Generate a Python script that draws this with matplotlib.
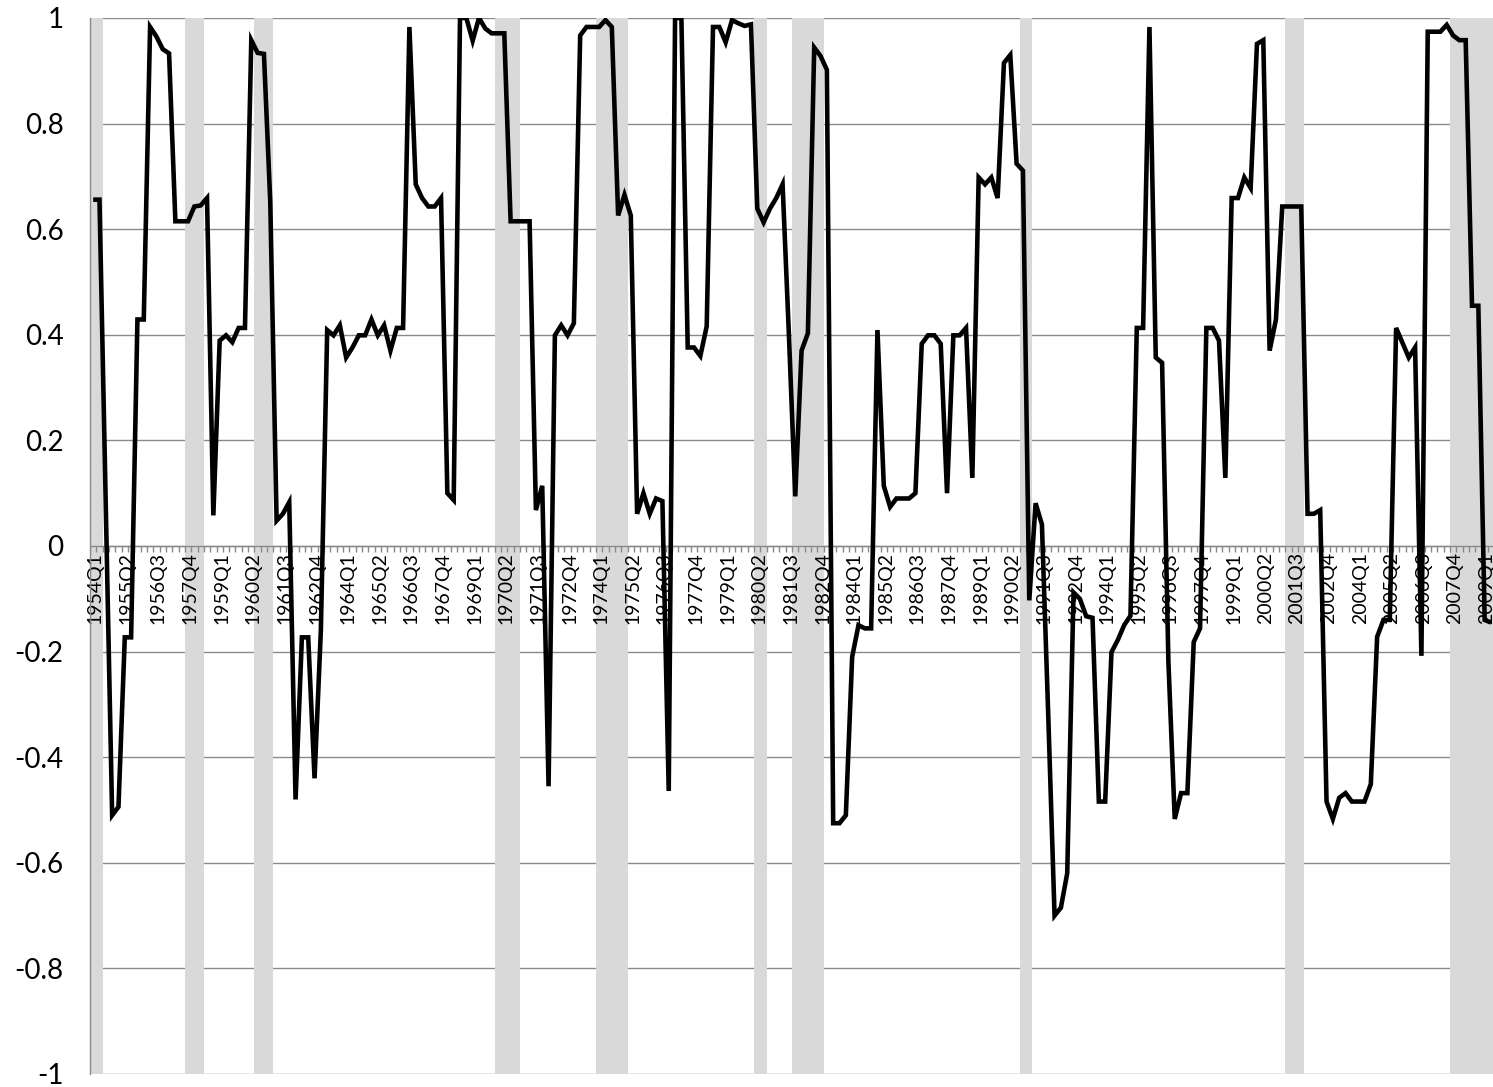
#!/usr/bin/env python3
# -*- coding: utf-8 -*-
"""
Quarterly correlation series 1954Q1-2009Q2 with recession shading.
Excel-style line chart, saved as out.png
"""
import matplotlib
matplotlib.use("Agg")
import matplotlib.pyplot as plt
import matplotlib.transforms as mtransforms
from matplotlib.collections import LineCollection

plt.rcParams['font.family'] = ['Lato', 'DejaVu Sans']

# ---- data -------------------------------------------------------------
START_YEAR = 1954
N_QUARTERS = 222          # 1954Q1 .. 2009Q2

vals_1950s = [0.656, 0.656, 0.073, -0.51, -0.494, -0.173, -0.173, 0.429,
              0.429, 0.983, 0.965, 0.941, 0.933, 0.615, 0.615, 0.615,
              0.643, 0.645, 0.659, 0.058, 0.389, 0.399, 0.386, 0.413]
vals_1960s = [0.413, 0.958, 0.934, 0.932, 0.652, 0.048, 0.061, 0.083,
              -0.48, -0.173, -0.173, -0.44, -0.16, 0.409, 0.399, 0.418,
              0.357, 0.376, 0.399, 0.399, 0.429, 0.399, 0.418, 0.370,
              0.413, 0.413, 0.983, 0.685, 0.659, 0.643, 0.643, 0.659,
              0.100, 0.087, 1.0, 1.0, 0.957, 1.0, 0.98, 0.971]
vals_1970s = [0.971, 0.971, 0.615, 0.615, 0.615, 0.615, 0.068, 0.114,
              -0.455, 0.399, 0.418, 0.399, 0.422, 0.967, 0.983, 0.983,
              0.983, 0.996, 0.983, 0.626, 0.665, 0.626, 0.061, 0.100,
              0.061, 0.090, 0.085, -0.464, 1.0, 1.0, 0.376, 0.376,
              0.36, 0.416, 0.983, 0.983, 0.954, 0.996, 0.99, 0.985]
vals_1980s = [0.988, 0.639, 0.613, 0.639, 0.659, 0.685, 0.40, 0.094,
              0.370, 0.403, 0.944, 0.928, 0.902, -0.525, -0.525, -0.510,
              -0.210, -0.150, -0.156, -0.156, 0.409, 0.114, 0.074, 0.090,
              0.090, 0.090, 0.100, 0.383, 0.399, 0.399, 0.383, 0.100,
              0.399, 0.399, 0.413, 0.129, 0.698, 0.685, 0.698, 0.659]
vals_1990s = [0.915, 0.930, 0.724, 0.711, -0.103, 0.081, 0.041, -0.32,
              -0.70, -0.685, -0.62, -0.088, -0.10, -0.133, -0.136, -0.484,
              -0.484, -0.201, -0.178, -0.150, -0.132, 0.413, 0.413, 0.983,
              0.357, 0.347, -0.22, -0.517, -0.468, -0.468, -0.182, -0.156,
              0.413, 0.413, 0.389, 0.129, 0.659, 0.659, 0.698, 0.678]
vals_2000s = [0.951, 0.958, 0.370, 0.429, 0.643, 0.643, 0.643, 0.643,
              0.061, 0.061, 0.068, -0.484, -0.517, -0.477, -0.468, -0.484,
              -0.484, -0.484, -0.451, -0.172, -0.14, -0.14, 0.413, 0.385,
              0.357, 0.376, -0.208, 0.974, 0.974, 0.974, 0.987, 0.967,
              0.958, 0.958, 0.455, 0.455, -0.14, -0.145]

# recession periods (first and last shaded quarter)
recessions = [("1954Q1", "1954Q2"), ("1957Q4", "1958Q2"),
              ("1960Q3", "1961Q1"), ("1970Q1", "1970Q4"),
              ("1974Q1", "1975Q1"), ("1980Q2", "1980Q3"),
              ("1981Q4", "1982Q4"), ("1990Q4", "1991Q1"),
              ("2001Q2", "2001Q4"), ("2007Q4", "2009Q2")]

y_ticks = [1, 0.8, 0.6, 0.4, 0.2, 0, -0.2, -0.4, -0.6, -0.8, -1]
y_tick_labels = ["1", "0.8", "0.6", "0.4", "0.2", "0", "-0.2", "-0.4",
                 "-0.6", "-0.8", "-1"]
LABEL_EVERY = 5

GRID_COL = "#8a8a8a"
SHADE_COL = "#d9d9d9"


def quarter_labels(n, start_year):
    """1954Q1, 1954Q2, ..."""
    return [f"{start_year + k // 4}Q{k % 4 + 1}" for k in range(n)]


def main():
    values = (vals_1950s + vals_1960s + vals_1970s + vals_1980s
              + vals_1990s + vals_2000s)
    cats = quarter_labels(N_QUARTERS, START_YEAR)
    xs = list(range(len(values)))

    W, H = 1493, 1087
    fig = plt.figure(figsize=(W / 100, H / 100), dpi=100)
    left, right = 90, W
    top, bottom = 18, 1074
    ax = fig.add_axes([left / W, (H - bottom) / H,
                       (right - left) / W, (bottom - top) / H])

    # x scale: one category = 6.325 px
    dx = 6.325
    ax.set_xlim(-0.5, -0.5 + (right - left) / dx)
    ax.set_ylim(-1, 1)

    # horizontal gridlines
    for yv in y_ticks:
        ax.axhline(yv, color=GRID_COL, lw=1.0, zorder=0.5)

    # recession shading
    for a, b in recessions:
        i0, i1 = cats.index(a), cats.index(b)
        ax.axvspan(i0 - 0.5, i1 + 0.5, color=SHADE_COL, lw=0, zorder=1)

    # category axis at zero, small tick marks between categories
    ax.axhline(0, color=GRID_COL, lw=1.0, zorder=1.5)
    tick_tr = mtransforms.offset_copy(ax.transData, fig=fig, y=-6,
                                      units='dots')
    ticks = LineCollection(
        [[ax.transData.transform((k - 0.5, 0)),
          tick_tr.transform((k - 0.5, 0))] for k in range(len(cats) + 1)],
        colors=GRID_COL, linewidths=1.0, transform=None, zorder=1.5)
    ax.add_collection(ticks)

    # rotated category labels (under the data line, like Excel)
    lab_tr = mtransforms.offset_copy(ax.transData, fig=fig, x=2, y=-6,
                                     units='dots')
    for k in range(0, len(cats), LABEL_EVERY):
        ax.text(k, 0, cats[k], rotation=90, ha='center', va='top',
                fontsize=14, color='#000000', transform=lab_tr,
                zorder=1.8)

    # data line
    ax.plot(xs, values, color='black', lw=3.3, zorder=3,
            solid_joinstyle='miter', solid_capstyle='butt')

    # value axis
    ax.set_yticks(y_ticks)
    ax.set_yticklabels(y_tick_labels, fontsize=20)
    ax.tick_params(axis='y', length=0, pad=19)
    ax.set_xticks([])
    for side in ('top', 'right', 'bottom'):
        ax.spines[side].set_visible(False)
    ax.spines['left'].set_color(GRID_COL)
    ax.spines['left'].set_linewidth(1.0)
    ax.spines['left'].set_zorder(2)

    fig.savefig("out.png", dpi=100, facecolor='white')
    plt.close(fig)
    return 0


if __name__ == "__main__":
    raise SystemExit(main())
